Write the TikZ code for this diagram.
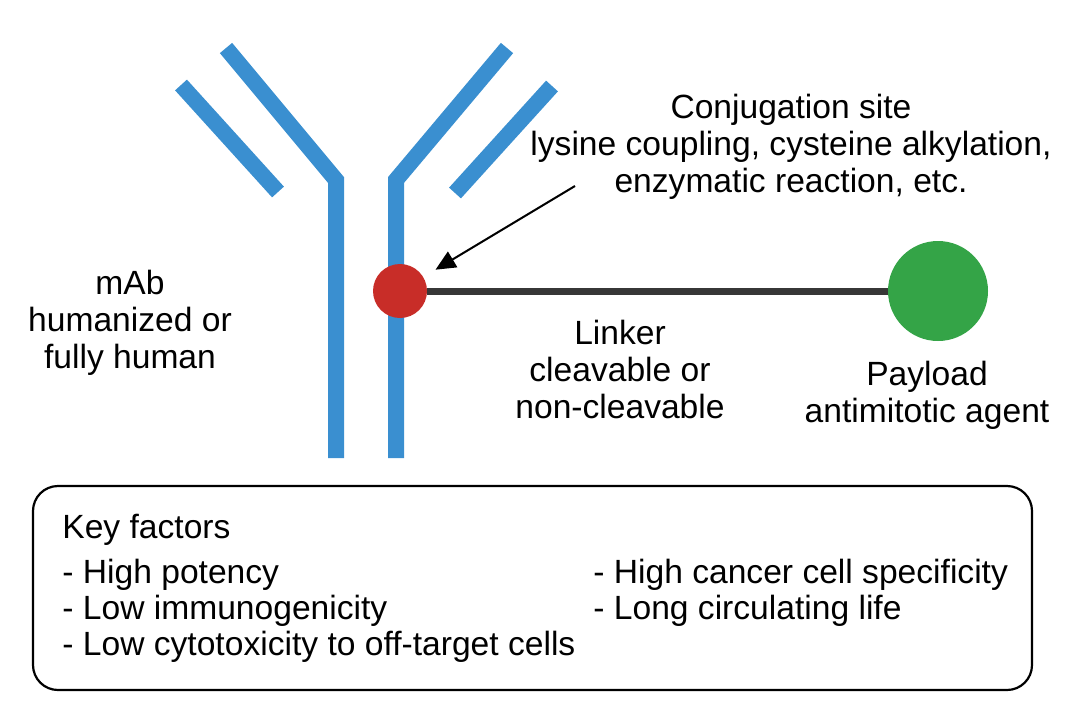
\documentclass[tikz,border=0pt]{standalone}
\usepackage{fontspec}
\setmainfont{Liberation Sans}
\usetikzlibrary{arrows.meta}
\definecolor{abblue}{RGB}{58,143,208}
\definecolor{dotred}{RGB}{200,45,40}
\definecolor{paygreen}{RGB}{52,164,71}
\definecolor{linkgray}{RGB}{55,55,55}

\begin{document}
\begin{tikzpicture}[x=0.5pt, y=-0.5pt, >={Triangle[length=10pt, width=9pt]},
    chain/.style={abblue, line width=8pt, line join=miter},
    lbl/.style={align=center, inner sep=0pt, font=\fontsize{16.8}{18.5}\selectfont},
    item/.style={anchor=west, inner sep=0pt, font=\fontsize{16.8}{18.5}\selectfont}]
    \useasboundingbox (0,0) rectangle (1080,723);

    % Heavy chains
    \draw[chain] (336,458) -- (336,180) -- (226,48);
    \draw[chain] (396,458) -- (396,180) -- (507,48);

    % Light chains
    \draw[chain] (181,85) -- (278,192);
    \draw[chain] (552,86) -- (455,193);

    % Conjugation site and payload
    \node[circle, fill=dotred, minimum size=27pt, inner sep=0pt] (conj) at (400,291) {};
    \node[circle, fill=paygreen, minimum size=50pt, inner sep=0pt] (drug) at (938,291) {};

    % Linker
    \draw[linkgray, line width=3.5pt] (conj) -- (drug);

    % Labels
    \node[lbl] (site) at (791,147) {Conjugation site\\lysine coupling, cysteine alkylation,\\enzymatic reaction, etc.};
    \node[lbl] (mab) at (130,323) {mAb\\humanized or\\fully human};
    \node[lbl] (linker) at (620,369) {Linker\\cleavable or\\non-cleavable};
    \node[lbl] (payload) at (927,395) {Payload\\antimitotic agent};

    % Arrow to the conjugation site
    \coordinate (tail) at (575,186);
    \draw[->, line width=1pt, shorten >=7pt] (tail) -- (conj);

    % Key factors box
    \draw[line width=1.1pt, rounded corners=12.5pt] (33,486) rectangle (1032,690);
    \node[item] (key) at (62,530) {Key factors};
    \node[item] (pot) at (62,575) {- High potency};
    \node[item] (imm) at (62,611) {- Low immunogenicity};
    \node[item] (tox) at (62,647) {- Low cytotoxicity to off-target cells};
    \node[item] (spec) at (593,575) {- High cancer cell specificity};
    \node[item] (life) at (593,611) {- Long circulating life};
\end{tikzpicture}
\end{document}
